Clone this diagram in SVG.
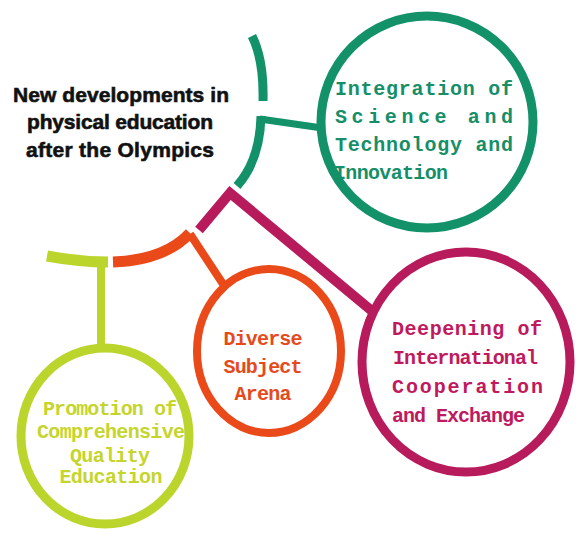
<svg xmlns="http://www.w3.org/2000/svg" width="576" height="533" viewBox="0 0 576 533">
<style>
.arc{fill:none;stroke-linecap:butt;stroke-linejoin:miter}
.ring{fill:none}
.mono{font-family:"Liberation Mono","DejaVu Sans Mono",monospace;font-weight:bold;font-size:20px}
.title{font-family:"Liberation Sans",Arial,sans-serif;font-weight:bold;font-size:21px;fill:#111;stroke:#111;stroke-width:0.6;text-anchor:middle}
.g{stroke:#13926a}
.p{stroke:#b81b5b}
.o{stroke:#ea4a1a}
.y{stroke:#bcd52c}
</style>
<rect width="576" height="533" fill="#ffffff"/>
<g id="connectors">
  <path class="arc g" d="M252,36 Q264,60 263,101" stroke-width="9"/>
  <path class="arc g" d="M261,116 Q260,160 237,186" stroke-width="9"/>
  <path class="arc g" d="M260,119 L322,128" stroke-width="7"/>
  <path class="arc p" d="M199,230 L230,193 L372,311" stroke-width="10"/>
  <path class="arc o" d="M113,262 Q165,260 190,233" stroke-width="11"/>
  <path class="arc o" d="M190,234 L223,284" stroke-width="8"/>
  <path class="arc y" d="M47,256 Q80,262 108,262" stroke-width="11"/>
  <path class="arc y" d="M101,262 L101,349" stroke-width="8"/>
</g>
<g id="title">
  <text class="title" x="121" y="102" textLength="216">New developments in</text>
  <text class="title" x="120" y="129" textLength="186">physical education</text>
  <text class="title" x="120" y="157" textLength="188">after the Olympics</text>
</g>
<g id="node-tech">
  <circle class="ring g" cx="427" cy="122" r="106" stroke-width="9"/>
  <g class="mono" fill="#168f68">
    <text x="335" y="95" textLength="178">Integration of</text>
    <text x="335" y="123" textLength="178">Science and</text>
    <text x="335" y="151" textLength="178">Technology and</text>
    <text x="334" y="179" textLength="114">Innovation</text>
  </g>
</g>
<g id="node-intl">
  <ellipse class="ring p" cx="466" cy="362" rx="104" ry="110" stroke-width="9"/>
  <g class="mono" fill="#c0195d">
    <text x="392" y="335" textLength="150">Deepening of</text>
    <text x="393" y="364" textLength="145">International</text>
    <text x="392" y="393" textLength="151">Cooperation</text>
    <text x="392" y="422" textLength="133">and Exchange</text>
  </g>
</g>
<g id="node-diverse">
  <ellipse class="ring o" cx="269" cy="351" rx="72" ry="82" stroke-width="8"/>
  <g class="mono" fill="#e54a1c" text-anchor="middle">
    <text x="263" y="345" textLength="79">Diverse</text>
    <text x="263" y="373" textLength="79">Subject</text>
    <text x="263" y="400" textLength="57">Arena</text>
  </g>
</g>
<g id="node-quality">
  <ellipse class="ring y" cx="105" cy="436" rx="84" ry="88" stroke-width="9"/>
  <g class="mono" fill="#c5d52c" text-anchor="middle">
    <text x="110" y="415" textLength="134">Promotion of</text>
    <text x="111" y="438" textLength="148">Comprehensive</text>
    <text x="110" y="462" textLength="80">Quality</text>
    <text x="111" y="483" textLength="103">Education</text>
  </g>
</g>
</svg>
